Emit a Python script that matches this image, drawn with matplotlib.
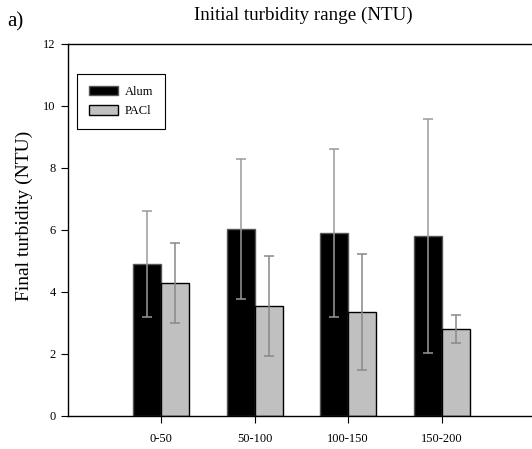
import matplotlib
matplotlib.use("Agg")
import matplotlib.pyplot as plt
import numpy as np

categories = ["0-50", "50-100", "100-150", "150-200"]
alum = [4.9, 6.03, 5.9, 5.8]
alum_err = [1.7, 2.27, 2.7, 3.77]
pacl = [4.29, 3.55, 3.36, 2.8]
pacl_err = [1.3, 1.6, 1.86, 0.45]

plt.rcParams['font.family'] = ['Liberation Serif', 'DejaVu Serif']

fig = plt.figure(figsize=(5.32, 4.49), dpi=100)
ax = fig.add_axes([68/532, 1-416/449, 467/532, (416-44)/449])

x = np.arange(1, len(categories)+1)
w = 0.3
ax.bar(x - w/2, alum, w, color='black', edgecolor='#555555', linewidth=1.0, label='Alum', zorder=2)
ax.bar(x + w/2, pacl, w, color='#c0c0c0', edgecolor='black', linewidth=1.0, label='PACl', zorder=2)
ax.errorbar(x - w/2, alum, yerr=alum_err, fmt='none', ecolor='#9a9a9a', elinewidth=1.1, capsize=3.6, capthick=1.1, zorder=3)
ax.errorbar(x + w/2, pacl, yerr=pacl_err, fmt='none', ecolor='#888888', elinewidth=1.1, capsize=3.6, capthick=1.1, zorder=3)

ax.set_xlim(0, 5)
ax.set_ylim(0, 12)
ax.set_xticks(x)
ax.set_xticklabels(categories, fontsize=9)
ax.set_yticks(np.arange(0, 13, 2))
ax.set_yticklabels([str(v) for v in range(0, 13, 2)], fontsize=9)
ax.tick_params(direction='out', length=5, width=0.8)
ax.tick_params(axis='x', pad=7)
ax.tick_params(axis='y', pad=4)
for s in ax.spines.values():
    s.set_linewidth(1.0)
ax.spines['right'].set_visible(False)

fig.text(24/532, 1-216/449, "Final turbidity (NTU)", ha='center', va='center', rotation=90, fontsize=14)

leg = ax.legend(loc='upper left', bbox_to_anchor=(9/467, (416-74)/372), fontsize=9,
                fancybox=False, edgecolor='black', framealpha=1,
                handlelength=2.3, handleheight=0.75, handletextpad=0.6,
                borderpad=0.95, labelspacing=0.6, borderaxespad=0)
leg.get_frame().set_linewidth(0.8)

fig.text(303/532, 1-15/449, "Initial turbidity range (NTU)", ha='center', va='center', fontsize=13.7)
fig.text(7/532, 1-22/449, "a)", ha='left', va='center', fontsize=15)

fig.savefig("out.png", dpi=100)
